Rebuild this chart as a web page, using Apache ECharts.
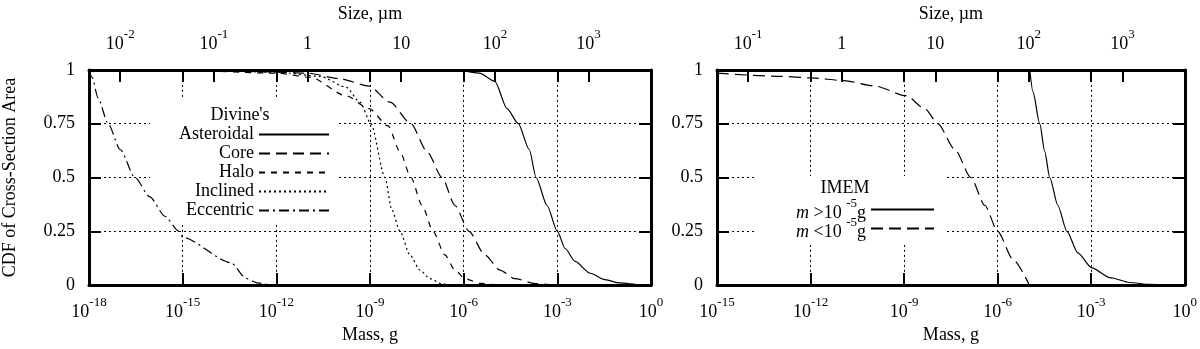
<!DOCTYPE html>
<html>
<head>
<meta charset="utf-8">
<script src="https://cdn.jsdelivr.net/npm/echarts@6/dist/echarts.min.js"></script>
<style>
  html, body { margin: 0; padding: 0; background: #fff; }
  #chart { width: 1200px; height: 349px; }
</style>
</head>
<body>
<div id="chart"></div>
<script>
// x = log10(mass, g), y = CDF of cross-section area
const asteroidal = [[-6.1, 1], [-5.5, 0.985], [-5.0, 0.947], [-4.61, 0.82], [-4.25, 0.75], [-3.9, 0.63],
  [-3.68, 0.5], [-3.33, 0.37], [-3.0, 0.25], [-2.75, 0.17], [-2.43, 0.11], [-1.95, 0.055],
  [-1.47, 0.025], [-1.0, 0.01], [-0.35, 0.002], [0, 0]];
const core = [[-18, 1], [-15, 0.998], [-12, 0.99], [-11, 0.985], [-10, 0.96], [-9.03, 0.925], [-8.36, 0.85],
  [-7.69, 0.75], [-7.17, 0.62], [-6.69, 0.5], [-6.28, 0.37], [-5.83, 0.25], [-5.32, 0.14],
  [-4.84, 0.07], [-4.36, 0.03], [-3.7, 0.007], [-3.0, 0], [0, 0]];
const halo = [[-18, 1], [-15, 0.997], [-12, 0.985], [-10.9, 0.965], [-9.77, 0.88], [-9.03, 0.82],
  [-8.42, 0.74], [-8.04, 0.62], [-7.69, 0.5], [-7.33, 0.37], [-6.98, 0.25], [-6.6, 0.14],
  [-6.28, 0.07], [-5.96, 0.03], [-5.48, 0.008], [-4.8, 0], [0, 0]];
const inclined = [[-18, 1], [-15, 0.998], [-12, 0.99], [-10.6, 0.97], [-9.77, 0.92], [-9.32, 0.85],
  [-8.97, 0.75], [-8.52, 0.5], [-8.3, 0.35], [-8.04, 0.25], [-7.72, 0.14], [-7.4, 0.07],
  [-7.08, 0.03], [-6.7, 0.005], [-6.3, 0], [0, 0]];
const eccentric = [[-18, 1], [-17.9, 0.965], [-17.71, 0.87], [-17.39, 0.75], [-17.0, 0.63], [-16.53, 0.5],
  [-16.05, 0.41], [-15.57, 0.32], [-15.12, 0.25], [-15.0, 0.222], [-13.45, 0.104], [-12.97, 0.031],
  [-12.6, 0.01], [-12.2, 0.002], [-11.9, 0]];
const imemLarge = [[-4.97, 1], [-4.87, 0.9], [-4.65, 0.75], [-4.49, 0.62], [-4.33, 0.5], [-4.07, 0.37],
  [-3.78, 0.25], [-3.43, 0.15], [-2.98, 0.08], [-2.4, 0.035], [-1.76, 0.012], [-1.12, 0.003],
  [-0.48, 0], [0, 0]];
const imemSmall = [[-15, 0.985], [-12.98, 0.97], [-11.99, 0.963], [-10.93, 0.95], [-9.94, 0.925],
  [-8.94, 0.88], [-8.33, 0.82], [-7.92, 0.75], [-7.37, 0.63], [-6.86, 0.5], [-6.41, 0.37],
  [-6.0, 0.25], [-5.51, 0.12], [-5.0, 0.005]];

const divineNames = ['Asteroidal', 'Core', 'Halo', 'Inclined', 'Eccentric'];
const imemNames = ['m>1e-5', 'm<1e-5'];
const imemLabels = ['{i|m}{b| >10 }{s|-5}{b|g}', '{i|m}{b| <10 }{s|-5}{b|g}'];

// size (um) ticks on the top axis, placed at the matching mass
const sizeMassExp = [-17, -14, -11, -8, -5, -2];
const sizeLabels = ['10{s|-2}', '10{s|-1}', '{b|1}', '{b|10}', '10{s|2}', '10{s|3}'];
const massGridExp = [-15, -12, -9, -6, -3];

const FONT = "'Liberation Serif', 'Times New Roman', serif";
const FS = 18;
const rich = {
  b: { fontFamily: FONT, fontSize: FS, color: '#000', lineHeight: 25, verticalAlign: 'bottom' },
  i: { fontFamily: FONT, fontSize: FS, color: '#000', fontStyle: 'italic', lineHeight: 25, verticalAlign: 'bottom' },
  s: { fontFamily: FONT, fontSize: 13, color: '#000', verticalAlign: 'top' }
};
const frame = { lineStyle: { color: '#000', width: 3 } };
const tick = { inside: true, length: 12, lineStyle: { color: '#000', width: 2 } };
const grid = { show: true, lineStyle: { color: '#000', width: 1, type: [2, 3] } };
const nameStyle = { fontFamily: FONT, fontSize: FS, color: '#000' };

function massLabel(v) {
  return '{b|10}{s|' + Math.round(v) + '}';
}
function sizeLabel(v) {
  const i = sizeMassExp.findIndex(e => Math.abs(e - v) < 1e-6);
  if (i < 0) return '';
  const t = sizeLabels[i];
  return t.indexOf('{b|') === 0 ? t : t.replace(/^10/, '{b|10}');
}

function bottomAxis(gridIndex, min) {
  return {
    type: 'value', gridIndex, position: 'bottom', min, max: 0, interval: 3,
    axisLine: Object.assign({ onZero: false }, frame), axisTick: tick, splitLine: grid,
    axisLabel: { formatter: massLabel, rich, margin: 11 },
    name: 'Mass, g', nameLocation: 'middle', nameGap: 36, nameTextStyle: nameStyle
  };
}
function topAxis(gridIndex, min) {
  const labelVals = sizeMassExp.filter(e => e > min);
  const tickVals = labelVals.concat(massGridExp.filter(e => e > min)).sort((a, b) => a - b);
  return {
    type: 'value', gridIndex, position: 'top', min, max: 0,
    axisLine: Object.assign({ onZero: false }, frame),
    axisTick: Object.assign({ customValues: tickVals }, tick),
    splitLine: { show: false },
    axisLabel: { customValues: labelVals, formatter: sizeLabel, rich, margin: 17 },
    name: 'Size, µm', nameLocation: 'middle', nameGap: 38, nameTextStyle: nameStyle
  };
}
function leftAxis(gridIndex, name) {
  return {
    type: 'value', gridIndex, position: 'left', min: 0, max: 1, interval: 0.25,
    axisLine: Object.assign({ onZero: false }, frame), axisTick: tick, splitLine: grid,
    axisLabel: { fontFamily: FONT, fontSize: FS, color: '#000', margin: 14 },
    name, nameLocation: 'middle', nameGap: 70, nameTextStyle: nameStyle
  };
}
function rightAxis(gridIndex) {
  return {
    type: 'value', gridIndex, position: 'right', min: 0, max: 1, interval: 0.25,
    axisLine: Object.assign({ onZero: false }, frame), axisTick: tick,
    splitLine: { show: false }, axisLabel: { show: false }
  };
}
function curve(name, data, dash, xi, yi) {
  return {
    name, type: 'line', data, xAxisIndex: xi, yAxisIndex: yi,
    symbol: 'none', smooth: 0.25, smoothMonotone: 'x',
    itemStyle: { color: '#000' },
    lineStyle: { color: '#000', width: 1.2, type: dash }
  };
}
const legendBase = {
  orient: 'vertical', align: 'right', padding: 0, itemHeight: 14, selectedMode: false,
  itemStyle: { opacity: 0 }
};

const chart = echarts.init(document.getElementById('chart'));
chart.setOption({
  animation: false,
  backgroundColor: '#fff',
  grid: [
    { left: 89, top: 60, width: 562, height: 227 },
    { left: 717, top: 60, width: 468, height: 227 }
  ],
  xAxis: [bottomAxis(0, -18), topAxis(0, -18), bottomAxis(1, -15), topAxis(1, -15)],
  yAxis: [leftAxis(0, 'CDF of Cross-Section Area'), rightAxis(0), leftAxis(1, ''), rightAxis(1)],
  legend: [
    Object.assign({}, legendBase, {
      data: divineNames, right: 870, top: 125, itemWidth: 70, itemGap: 0,
      textStyle: { fontFamily: FONT, fontSize: FS, color: '#000', lineHeight: 19 }
    }),
    Object.assign({}, legendBase, {
      data: [imemNames[0]], right: 265, top: 197, itemWidth: 63,
      formatter: () => imemLabels[0], textStyle: { rich }
    }),
    Object.assign({}, legendBase, {
      data: [imemNames[1]], right: 265, top: 216, itemWidth: 63,
      formatter: () => imemLabels[1], textStyle: { rich }
    })
  ],
  graphic: [
    { type: 'rect', z: 1, shape: { x: 150, y: 100, width: 188, height: 124 }, style: { fill: '#fff' } },
    { type: 'rect', z: 1, shape: { x: 754, y: 176, width: 192, height: 66 }, style: { fill: '#fff' } },
    { type: 'text', z: 5, x: 240, y: 115, style: { text: "Divine's", font: FS + 'px ' + FONT, fill: '#000', align: 'center', verticalAlign: 'middle' } },
    { type: 'text', z: 5, x: 845, y: 188, style: { text: 'IMEM', font: FS + 'px ' + FONT, fill: '#000', align: 'center', verticalAlign: 'middle' } }
  ],
  series: [
    curve('Asteroidal', asteroidal, 'solid', 0, 0),
    curve('Core', core, [11, 6], 0, 0),
    curve('Halo', halo, [6, 6], 0, 0),
    curve('Inclined', inclined, [2, 3], 0, 0),
    curve('Eccentric', eccentric, [10, 4, 2, 4], 0, 0),
    curve(imemNames[0], imemLarge, 'solid', 2, 2),
    curve(imemNames[1], imemSmall, [12, 6], 2, 2)
  ]
});
</script>
</body>
</html>
